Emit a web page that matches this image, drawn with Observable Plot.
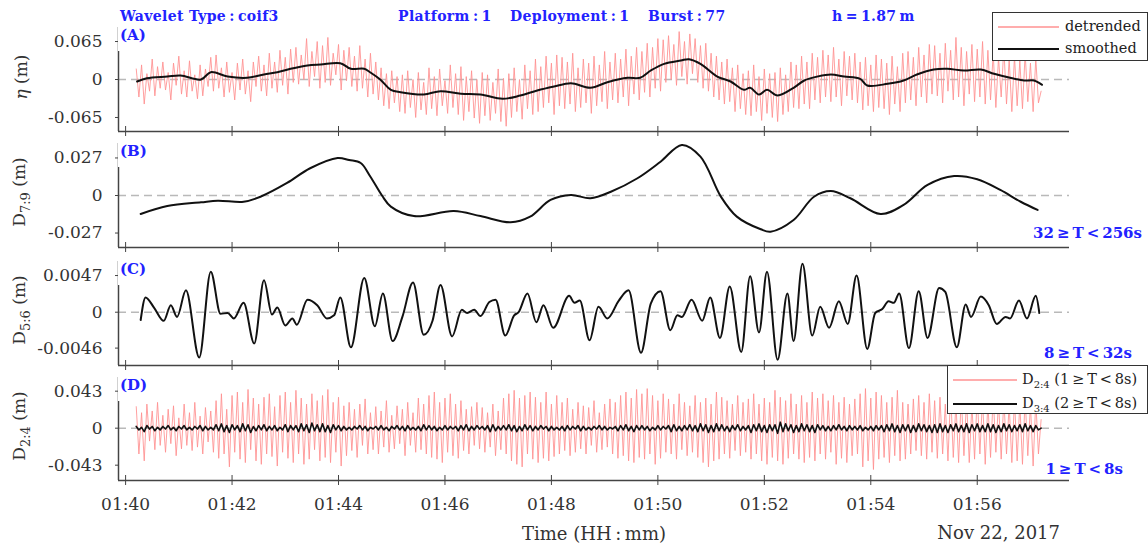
<!DOCTYPE html>
<html>
<head>
<meta charset="utf-8">
<script src="https://cdn.jsdelivr.net/npm/d3@7"></script>
<script src="https://cdn.jsdelivr.net/npm/@observablehq/plot@0.6"></script>
<style>
  body { margin: 0; background: #fff; }
  #fig { position: relative; width: 1148px; height: 546px; overflow: hidden; font-family: "DejaVu Serif", serif; }
  #fig svg { position: absolute; left: 0; }
  .blue { position: absolute; color: #2222ff; font-weight: bold; font-size: 14px; letter-spacing: 0.35px; line-height: 16px; white-space: nowrap; }
  .band { position: absolute; color: #2222ff; font-weight: bold; font-size: 15px; line-height: 17px; white-space: nowrap; }
  .plab { position: absolute; left: 118px; background: #fff; color: #2222ff; font-weight: bold; font-size: 15px; line-height: 17px; padding: 0px 3px 7px 2px; }
  .ylab { position: absolute; transform: translate(-50%, -50%) rotate(-90deg); font-size: 17px; color: #333; white-space: nowrap; }
  .ylab sub { font-size: 13px; }
  .xt { position: absolute; font-size: 18px; color: #333; white-space: nowrap; line-height: 20px; }
  .legend { position: absolute; background: #fff; border: 1px solid #333; font-size: 14.5px; color: #222; }
  .legend .row { position: absolute; left: 0; right: 0; height: 20px; }
  .legend .swatch { position: absolute; height: 0; }
  .legend .lt { position: absolute; white-space: nowrap; line-height: 20px; top: -10px; }
  .legend sub { font-size: 10px; }
</style>
</head>
<body>
<div id="fig"></div>
<script>
// ---- time axis --------------------------------------------------------
const burstDate = [2017, 10, 22];          // Nov 22, 2017 (month is 0-based)
const burstStartClock = [1, 40, 0];        // first tick, 01:40:00
const xDomainSec = [-8, 1064];             // seconds after 01:40:00
const timeTickLabels = ["01:40", "01:42", "01:44", "01:46", "01:48", "01:50", "01:52", "01:54", "01:56"];

// ---- panel (A): surface elevation ------------------------------------
// dense series sampled every 3 s starting 12 s after 01:40:00 (values in mm)
const denseStartSec = 12;
const denseStepSec = 3;
const etaDetrendedMm = [
  18,-30,25,-42,10,-20,35,-28,22,-15,
  30,-18,12,-35,28,-10,40,-25,15,-30,
  32,-20,8,-33,25,-28,18,-12,38,-20,
  42,-15,20,-30,30,-22,12,-35,28,-18,
  35,-25,15,-38,30,-12,40,-20,25,-28,
  45,-15,30,-22,50,-10,38,-25,52,-5,
  55,-8,42,0,70,-12,48,5,65,-15,
  58,-5,72,-10,45,8,60,-18,50,-2,
  55,-12,40,-20,58,-15,35,-30,45,-25,
  30,-35,20,-45,10,-50,15,-40,5,-55,
  8,-58,15,-48,0,-65,12,-52,-5,-60,
  20,-50,5,-62,18,-45,-2,-58,25,-48,
  10,-60,22,-70,5,-55,15,-66,0,-75,
  12,-62,8,-70,-5,-58,18,-72,2,-80,
  10,-65,20,-55,0,-68,25,-50,15,-60,
  35,-55,22,-48,40,-40,28,-60,42,-45,
  38,-50,30,-42,45,-55,20,-48,35,-40,
  28,-58,40,-45,25,-38,48,-50,30,-35,
  45,-40,35,-30,52,-45,40,-25,55,-35,
  48,-22,62,-30,55,-15,70,-20,68,-5,
  75,0,60,-10,82,5,65,-8,78,10,
  70,-5,58,-15,62,-20,45,-30,40,-35,
  30,-42,35,-38,20,-55,25,-50,10,-60,
  15,-62,25,-55,5,-70,18,-58,10,-65,
  12,-72,20,-60,8,-55,30,-48,25,-50,
  40,-42,30,-50,45,-35,38,-40,50,-30,
  42,-38,55,-30,35,-45,48,-28,40,-35,
  45,-40,30,-52,38,-45,25,-55,42,-48,
  35,-50,28,-60,40,-42,22,-55,45,-40,
  48,-35,38,-45,55,-30,42,-40,60,-25,
  58,-28,45,-40,62,-20,50,-35,72,-30,
  55,-45,48,-25,60,-38,52,-30,65,-42,
  50,-35,45,-48,38,-30,55,-42,35,-55,
  40,-45,32,-50,45,-38,28,-55,36,-40,
  -20
];
const etaSmoothSec = [13,24,47,62,85,96,115,137,156,171,186,205,220,242,254,269,276,287,299,310,336,355,378,400,425,445,464,483,502,524,543,566,580,592,607,626,635,648,667,682,697,704,714,723,735,753,765,780,795,810,828,836,859,877,892,911,926,945,964,979,997,1013,1024,1033];
const etaSmoothM = [-0.0034,0.0023,0.0051,0.0068,0.0000,0.0125,0.0051,0.0029,0.0086,0.0125,0.0183,0.0239,0.0257,0.0279,0.0183,0.0183,0.0120,0.0000,-0.0176,-0.0217,-0.0257,-0.0200,-0.0245,-0.0257,-0.0330,-0.0274,-0.0188,-0.0120,-0.0063,-0.0142,-0.0046,0.0029,0.0029,0.0154,0.0268,0.0325,0.0348,0.0268,0.0051,-0.0034,-0.0176,-0.0142,-0.0257,-0.0176,-0.0274,-0.0142,-0.0017,0.0051,0.0086,0.0051,0.0011,-0.0103,-0.0074,-0.0017,0.0086,0.0171,0.0183,0.0154,0.0171,0.0097,0.0029,-0.0017,-0.0017,-0.0091];

// ---- panel (B): D7:9, 32-256 s band -----------------------------------
const d79Sec = [17,47,85,104,133,152,182,208,239,252,265,276,289,299,325,370,400,434,456,479,502,524,547,577,603,627,648,671,689,716,727,753,776,795,817,851,877,904,934,960,986,1009,1028];
const d79M = [-0.0133,-0.0076,-0.0049,-0.0037,-0.0045,-0.0009,0.0090,0.0196,0.0270,0.0255,0.0234,0.0135,0.0000,-0.0080,-0.0148,-0.0112,-0.0148,-0.0193,-0.0152,-0.0032,0.0004,-0.0020,0.0027,0.0124,0.0243,0.0364,0.0280,-0.0008,-0.0152,-0.0243,-0.0260,-0.0176,-0.0009,0.0032,-0.0020,-0.0133,-0.0068,0.0076,0.0140,0.0117,0.0040,-0.0045,-0.0104];

// ---- panel (C): D5:6, 8-32 s band --------------------------------------
const d56Sec = [17,22.5,32,43,51,58,68,83,96,107,115,122,133,145,156,165,171,180,188,193,205,216,227,235,242,254,269,281,290,301,312,324,336,346,355,368,379,385,393,400,410,417,428,438,443,453,463,471,482,500,506,512,523,533,543,556,567,581,592,603,614,622,627,638,650,659,670,681,694,704,714,723,735,746,753,763,774,783,793,804,814,824,836,845,853,860,866,872,883,894,904,917,924,937,947,953,964,973,982,992,997,1007,1016,1026,1030];
const d56M = [-0.0010,0.0019,0.0006,-0.0011,0.0009,-0.0006,0.0028,-0.0058,0.0052,-0.0002,-0.0001,-0.0008,0.0012,-0.0040,0.0041,-0.0003,0.0006,-0.0017,-0.0008,-0.0016,0.0016,0.0009,-0.0008,-0.0004,0.0019,-0.0045,0.0044,-0.0018,0.0024,-0.0037,-0.0006,0.0038,-0.0029,-0.0011,0.0035,-0.0031,0.0003,-0.0001,0.0003,-0.0005,0.0013,0.0016,-0.0030,-0.0004,0.0000,0.0024,-0.0013,0.0009,-0.0020,0.0021,0.0012,0.0015,-0.0036,0.0007,-0.0008,0.0015,0.0028,-0.0052,0.0011,0.0027,-0.0023,-0.0004,-0.0006,0.0016,-0.0011,0.0019,-0.0033,0.0033,-0.0051,0.0046,-0.0026,0.0052,-0.0061,0.0024,-0.0037,0.0062,-0.0030,0.0007,-0.0020,0.0014,-0.0015,0.0047,-0.0047,-0.0001,0.0004,0.0014,0.0012,0.0024,-0.0046,0.0027,-0.0033,0.0031,0.0026,-0.0045,0.0010,-0.0006,0.0020,0.0009,-0.0015,-0.0006,-0.0008,0.0015,-0.0008,0.0021,-0.0001];

// ---- panel (D): D2:4 and D3:4, 1-8 s band (mm, same 3 s grid) ----------
const d24Mm = [
  25,-30,18,-38,28,-15,20,-25,30,-20,
  15,-28,22,-18,26,-32,12,-24,28,-20,
  18,-26,30,-22,14,-30,24,-16,20,-28,
  32,-35,40,-30,22,-45,38,-28,42,-36,
  30,-40,45,-25,35,-38,28,-42,36,-30,
  40,-33,25,-44,38,-28,42,-35,30,-40,
  44,-30,35,-42,28,-36,40,-25,32,-38,
  38,-34,45,-40,30,-28,36,-44,26,-32,
  30,-26,22,-34,28,-20,34,-30,18,-25,
  25,-30,20,-22,32,-28,15,-24,26,-18,
  22,-32,30,-20,18,-28,35,-25,28,-30,
  38,-34,42,-36,30,-40,35,-28,40,-32,
  28,-35,32,-26,22,-30,25,-20,30,-24,
  24,-28,18,-22,28,-32,20,-25,35,-30,
  40,-38,44,-42,35,-45,38,-30,42,-36,
  36,-40,30,-35,42,-38,28,-33,38,-30,
  30,-26,35,-32,22,-28,30,-24,26,-30,
  24,-20,32,-28,18,-25,28,-22,34,-30,
  30,-35,38,-32,42,-38,35,-40,45,-34,
  40,-36,46,-30,38,-42,32,-35,40,-28,
  34,-30,28,-36,40,-25,30,-32,26,-28,
  38,-34,30,-40,35,-45,28,-38,42,-36,
  36,-30,32,-35,28,-26,38,-32,30,-28,
  34,-36,40,-30,28,-38,35,-42,30,-34,
  44,-38,36,-42,32,-35,40,-30,28,-36,
  38,-40,30,-34,42,-38,35,-30,40,-36,
  32,-28,38,-42,30,-35,36,-40,28,-32,
  34,-30,40,-45,46,-38,35,-48,42,-36,
  38,-34,30,-40,36,-32,44,-38,30,-36,
  28,-30,34,-26,38,-32,30,-36,40,-28,
  32,-35,36,-30,28,-38,42,-34,30,-40,
  38,-32,34,-40,28,-36,40,-30,36,-42,
  30,-34,38,-28,32,-36,35,-30,28,-40,
  34,-38,30,-42,36,-32,28,-44,32,-30,
  10
];
const d34Mm = [
  2,-2,1,-4,3,-1,2,-3,1,-2,
  2,-1,3,-2,1,-3,2,-1,3,-2,
  1,-2,2,-1,3,-3,2,-2,1,-2,
  4,-3,5,-4,3,-5,4,-2,3,-4,
  5,-3,4,-5,2,-3,3,-2,4,-3,
  2,-2,3,-3,1,-2,4,-4,3,-2,
  3,-4,5,-3,4,-5,6,-3,4,-4,
  5,-4,3,-5,4,-2,3,-3,2,-2,
  1,-2,2,-1,3,-2,2,-3,1,-1,
  2,-2,3,-2,1,-3,2,-1,3,-2,
  2,-3,3,-2,1,-2,2,-3,4,-2,
  3,-2,2,-3,1,-2,3,-2,2,-1,
  2,-3,3,-2,4,-3,2,-2,3,-1,
  2,-2,3,-4,4,-3,2,-2,3,-2,
  4,-3,3,-4,2,-3,4,-2,3,-3,
  2,-2,3,-1,2,-3,2,-2,1,-2,
  2,-3,3,-2,2,-1,3,-3,2,-2,
  1,-2,2,-1,3,-2,2,-2,1,-1,
  2,-3,3,-2,4,-3,2,-4,3,-2,
  3,-2,2,-3,1,-2,3,-2,2,-1,
  3,-4,4,-3,2,-3,3,-2,4,-3,
  3,-4,5,-3,4,-5,3,-4,5,-3,
  4,-3,2,-4,3,-2,4,-3,2,-2,
  3,-5,4,-3,5,-4,3,-5,4,-3,
  4,-6,7,-4,5,-3,4,-5,3,-4,
  5,-3,4,-4,3,-5,4,-2,3,-3,
  2,-3,3,-2,4,-2,2,-3,3,-2,
  2,-2,3,-3,1,-2,2,-3,3,-2,
  3,-4,4,-3,5,-4,3,-5,4,-3,
  4,-5,3,-4,5,-3,4,-4,3,-5,
  4,-5,5,-4,3,-5,4,-3,5,-4,
  3,-4,5,-5,4,-3,5,-4,3,-4,
  5,-4,4,-5,3,-4,5,-3,4,-4,
  3,-3,4,-4,5,-3,3,-4,3,-2,
  0
];

// ---- y tick values and their printed labels ---------------------------
const etaTicks = [-0.065, 0, 0.065],   etaTickLabels = ["-0.065", "0", "0.065"];
const d79Ticks = [-0.027, 0, 0.027],   d79TickLabels = ["-0.027", "0", "0.027"];
const d56Ticks = [-0.0046, 0, 0.0047], d56TickLabels = ["-0.0046", "0", "0.0047"];
const d24Ticks = [-0.043, 0, 0.043],   d24TickLabels = ["-0.043", "0", "0.043"];

// ---- helpers ------------------------------------------------------------
const startMs = Date.UTC(burstDate[0], burstDate[1], burstDate[2], ...burstStartClock);
const toDate = s => new Date(startMs + s * 1000);
const tickDates = timeTickLabels.map(s => {
  const [h, m] = s.split(":").map(Number);
  return new Date(Date.UTC(burstDate[0], burstDate[1], burstDate[2], h, m, 0));
});
const denseRows = mm => mm.map((v, i) => ({t: toDate(denseStartSec + i * denseStepSec), v: v / 1000}));
const pairRows = (sec, val) => sec.map((s, i) => ({t: toDate(s), v: val[i]}));

const RED = "#ff8f8f";
const INK = "#111";
const FONT = "'DejaVu Serif', serif";
const xDomain = xDomainSec.map(toDate);

function panel({top, height, marginTop, marginBottom, yDomain, yTicks, yTickLabels, marks, xLabels}) {
  const lab = new Map(yTicks.map((d, i) => [d, yTickLabels[i]]));
  const svg = Plot.plot({
    width: 1148, height, marginLeft: 118, marginRight: 79, marginTop, marginBottom,
    style: {fontFamily: FONT, fontSize: "17px", color: "#333", background: "transparent", overflow: "visible"},
    x: {type: "utc", domain: xDomain},
    y: {domain: yDomain},
    marks: [
      Plot.ruleY([0], {stroke: "#b9b9b9", strokeWidth: 1.5, strokeDasharray: "8,5"}),
      ...marks,
      Plot.axisY({ticks: yTicks, tickFormat: d => lab.get(d), tickSize: 3, tickPadding: 13, label: null,
                  stroke: "#444", fontFamily: FONT, fontSize: 17}),
      Plot.axisX({ticks: tickDates, tickSize: 5, tickPadding: 12, label: null, stroke: "#444",
                  fontFamily: FONT, fontSize: 17,
                  tickFormat: xLabels ? d3.utcFormat("%H:%M") : () => ""}),
      Plot.axisX({ticks: tickDates, tickSize: -5, label: null, stroke: "#444", tickFormat: () => ""}),
      Plot.ruleX([xDomain[0]], {stroke: "#444", strokeWidth: 1.5}),
      Plot.ruleY([yDomain[0]], {stroke: "#444", strokeWidth: 1.5})
    ]
  });
  svg.style.top = top + "px";
  return svg;
}

const fig = document.getElementById("fig");

fig.append(panel({
  top: 0, height: 138, marginTop: 27, marginBottom: 7,
  yDomain: [-0.089, 0.089], yTicks: etaTicks, yTickLabels: etaTickLabels,
  marks: [
    Plot.line(denseRows(etaDetrendedMm), {x: "t", y: "v", stroke: RED, strokeWidth: 1, strokeOpacity: 0.85}),
    Plot.line(pairRows(etaSmoothSec, etaSmoothM), {x: "t", y: "v", stroke: INK, strokeWidth: 2, curve: "catmull-rom"})
  ]
}));

fig.append(panel({
  top: 138, height: 116, marginTop: 5, marginBottom: 7,
  yDomain: [-0.0374, 0.0374], yTicks: d79Ticks, yTickLabels: d79TickLabels,
  marks: [
    Plot.line(pairRows(d79Sec, d79M), {x: "t", y: "v", stroke: INK, strokeWidth: 2, curve: "catmull-rom"})
  ]
}));

fig.append(panel({
  top: 254, height: 118, marginTop: 7, marginBottom: 7,
  yDomain: [-0.00683, 0.0065], yTicks: d56Ticks, yTickLabels: d56TickLabels,
  marks: [
    Plot.line(pairRows(d56Sec, d56M), {x: "t", y: "v", stroke: INK, strokeWidth: 2, curve: "monotone-x"})
  ]
}));

fig.append(panel({
  top: 372, height: 174, marginTop: 5, marginBottom: 66,
  yDomain: [-0.0608, 0.0589], yTicks: d24Ticks, yTickLabels: d24TickLabels, xLabels: true,
  marks: [
    Plot.line(denseRows(d24Mm), {x: "t", y: "v", stroke: RED, strokeWidth: 1, strokeOpacity: 0.85}),
    Plot.line(denseRows(d34Mm), {x: "t", y: "v", stroke: INK, strokeWidth: 1.6})
  ]
}));

// ---- text overlays --------------------------------------------------------
function add(html, cls, style) {
  const el = document.createElement("div");
  el.className = cls;
  el.innerHTML = html;
  Object.assign(el.style, style);
  fig.append(el);
  return el;
}
const th = "\u2009";
add(`Wavelet Type${th}:${th}coif3`, "blue", {left: "120px", top: "8px"});
add(`Platform${th}:${th}1`, "blue", {left: "398px", top: "8px"});
add(`Deployment${th}:${th}1`, "blue", {left: "510px", top: "8px"});
add(`Burst${th}:${th}77`, "blue", {left: "648px", top: "8px"});
add(`h${th}=${th}1.87${th}m`, "blue", {left: "832px", top: "8px"});

add("(A)", "plab", {top: "27px"});
add("(B)", "plab", {top: "143px"});
add("(C)", "plab", {top: "261px"});
add("(D)", "plab", {top: "377px"});

add(`32${th}≥${th}T${th}&lt;${th}256s`, "band", {right: "6px", top: "225px"});
add(`8${th}≥${th}T${th}&lt;${th}32s`, "band", {right: "16px", top: "345px"});
add(`1${th}≥${th}T${th}&lt;${th}8s`, "band", {right: "25px", top: "461px"});

add("<i>η</i> (m)", "ylab", {left: "21px", top: "77px"});
add("D<sub>7:9</sub> (m)", "ylab", {left: "21px", top: "192px"});
add("D<sub>5:6</sub> (m)", "ylab", {left: "21px", top: "310px"});
add("D<sub>2:4</sub> (m)", "ylab", {left: "21px", top: "426px"});

add(`Time (HH${th}:${th}mm)`, "xt", {left: "594px", top: "524px", transform: "translateX(-50%)"});
add("Nov 22, 2017", "xt", {right: "88px", top: "523px"});

function legend(box, rows) {
  const lg = add("", "legend", box);
  rows.forEach(r => {
    const row = document.createElement("div");
    row.className = "row";
    row.style.top = r.y + "px";
    row.innerHTML = `<div class="swatch" style="left:${r.x0}px;width:${r.w}px;border-top:${r.sw}px solid ${r.color}"></div>` +
                    `<div class="lt" style="left:${r.tx}px">${r.text}</div>`;
    lg.append(row);
  });
}
legend({left: "992px", top: "12px", width: "154px", height: "47px"}, [
  {y: 13, x0: 5, w: 61, sw: 2, color: "#ffadad", tx: 72, text: "detrended"},
  {y: 35, x0: 5, w: 61, sw: 2, color: INK, tx: 72, text: "smoothed"}
]);
legend({left: "947px", top: "365px", width: "199px", height: "47px"}, [
  {y: 13, x0: 5, w: 64, sw: 2, color: "#ffadad", tx: 74, text: `D<sub>2:4</sub> (1${th}≥${th}T${th}&lt;${th}8s)`},
  {y: 37, x0: 5, w: 64, sw: 2, color: INK, tx: 74, text: `D<sub>3:4</sub> (2${th}≥${th}T${th}&lt;${th}8s)`}
]);
</script>
</body>
</html>
